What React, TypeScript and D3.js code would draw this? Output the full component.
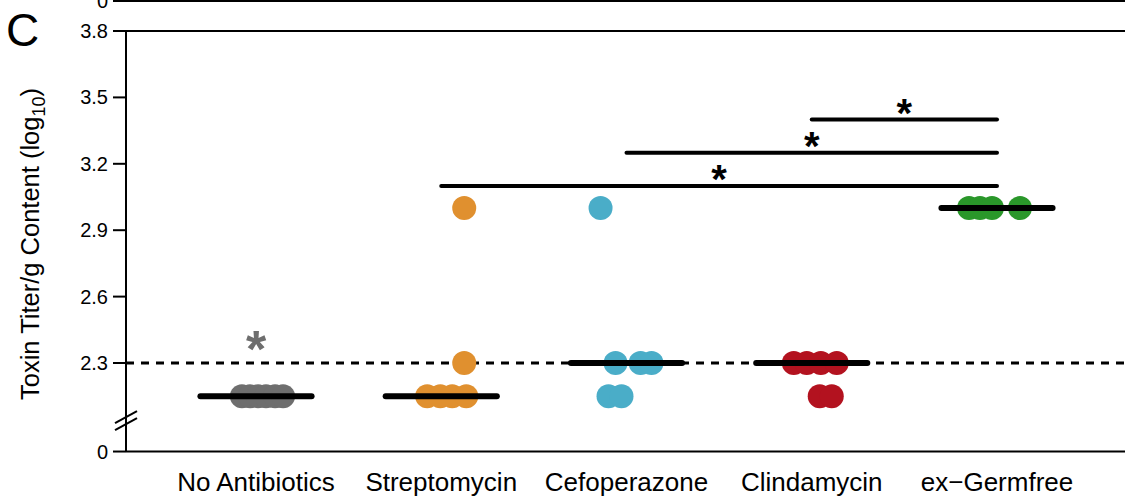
import React from 'react'
import { scaleLinear } from 'd3'

// groups along the x axis
const categories = ['No Antibiotics', 'Streptomycin', 'Cefoperazone', 'Clindamycin', 'ex\u2212Germfree']
const groupColors = ['#6e6e6e', '#e0902f', '#4aadc8', '#b3121f', '#2a972a']
const medians = [2.15, 2.15, 2.3, 2.3, 3.0]

// per-mouse toxin titers (log10); 2.15 = below detection, drawn under the dashed line
const noAbxValues = [2.15, 2.15, 2.15, 2.15, 2.15, 2.15]
const noAbxJitter = [-0.076, -0.032, 0.011, 0.054, 0.103, 0.146]
const strepValues = [3.0, 2.3, 2.15, 2.15, 2.15, 2.15]
const strepJitter = [0.124, 0.124, -0.076, -0.005, 0.059, 0.135]
const cefValues = [3.0, 2.3, 2.3, 2.3, 2.15, 2.15]
const cefJitter = [-0.14, -0.059, 0.076, 0.135, -0.097, -0.027]
const clindaValues = [2.3, 2.3, 2.3, 2.3, 2.15, 2.15]
const clindaJitter = [-0.097, -0.027, 0.049, 0.135, 0.043, 0.108]
const gfValues = [3.0, 3.0, 3.0, 3.0]
const gfJitter = [-0.151, -0.092, -0.027, 0.124]

// significance brackets: from group -> ex-Germfree
const sigFrom = [3, 2, 1]
const sigLevel = [3.4, 3.25, 3.1]
const sigTo = 4

const yTicks = [2.3, 2.6, 2.9, 3.2, 3.5, 3.8]
const detectionLimit = 2.3
const zeroAt = 1.9 // where the "0" tick sits below the axis break
const breakAt = 2.04

const W = 1125
const H = 498
const font = 'Liberation Sans, Arial, sans-serif'

const App = () => {
  const x = scaleLinear().domain([0, 4]).range([256, 997])
  const y = scaleLinear().domain([2.3, 3.8]).range([363, 31])
  const axisX = 126
  const tickLen = 13

  const groups = [
    { v: noAbxValues, j: noAbxJitter },
    { v: strepValues, j: strepJitter },
    { v: cefValues, j: cefJitter },
    { v: clindaValues, j: clindaJitter },
    { v: gfValues, j: gfJitter }
  ]

  const points = groups.flatMap((g, gi) =>
    g.v.map((val, k) => ({ gi, val, jit: g.j[k] }))
  )

  const zeroY = y(zeroAt)
  const brY = y(breakAt)

  return (
    <svg width={W} height={H} style={{ position: 'absolute', left: 0, top: 0, display: 'block', background: '#fff' }} fontFamily={font}>
      {/* remnant of the panel above */}
      <line x1={axisX - tickLen} x2={W} y1={1} y2={1} stroke="#000" strokeWidth={2} />
      <text x={108} y={8} fontSize={20} textAnchor="end">0</text>

      {/* panel letter */}
      <text x={6} y={46} fontSize={46}>C</text>

      {/* top frame line at 3.8 */}
      <line x1={axisX} x2={W} y1={y(3.8)} y2={y(3.8)} stroke="#000" strokeWidth={2} />
      {/* bottom line at 0 */}
      <line x1={axisX} x2={W} y1={zeroY} y2={zeroY} stroke="#000" strokeWidth={2} />

      {/* y axis */}
      <line x1={axisX} x2={axisX} y1={y(3.8)} y2={zeroY} stroke="#000" strokeWidth={2} />
      {yTicks.map(t => (
        <g key={t}>
          <line x1={axisX - tickLen} x2={axisX} y1={y(t)} y2={y(t)} stroke="#000" strokeWidth={2} />
          <text x={108} y={y(t) + 7} fontSize={20} textAnchor="end">{t.toFixed(1)}</text>
        </g>
      ))}
      <line x1={axisX - tickLen} x2={axisX} y1={zeroY} y2={zeroY} stroke="#000" strokeWidth={2} />
      <text x={108} y={zeroY + 7} fontSize={20} textAnchor="end">0</text>

      {/* axis break */}
      {[-3.5, 3.5].map(d => (
        <line key={d} x1={axisX - 11} x2={axisX + 11} y1={brY + d + 6} y2={brY + d - 6} stroke="#000" strokeWidth={2} />
      ))}

      {/* y label */}
      <text transform={`translate(39,244) rotate(-90)`} fontSize={25.5} textAnchor="middle">
        Toxin Titer/g Content (log
        <tspan fontSize={18} dy={6}>10</tspan>
        <tspan dy={-6}>)</tspan>
      </text>

      {/* detection limit */}
      <line x1={axisX} x2={W} y1={y(detectionLimit)} y2={y(detectionLimit)} stroke="#000" strokeWidth={3} strokeDasharray="8,7" />

      {/* points */}
      {points.map((p, i) => (
        <circle key={i} cx={x(p.gi + p.jit)} cy={y(p.val)} r={12} fill={groupColors[p.gi]} />
      ))}

      {/* medians */}
      {medians.map((m, i) => (
        <line key={i} x1={x(i - 0.3)} x2={x(i + 0.3)} y1={y(m)} y2={y(m)} stroke="#000" strokeWidth={6} strokeLinecap="round" />
      ))}

      {/* significance bars */}
      {sigFrom.map((f, i) => (
        <g key={f}>
          <line x1={x(f)} x2={x(sigTo)} y1={y(sigLevel[i])} y2={y(sigLevel[i])} stroke="#000" strokeWidth={4} strokeLinecap="round" />
          <text x={(x(f) + x(sigTo)) / 2} y={y(sigLevel[i]) + 7} fontSize={40} fontWeight="bold" textAnchor="middle">*</text>
        </g>
      ))}
      <text x={x(0)} y={367} fontSize={52} fontWeight="bold" textAnchor="middle" fill={groupColors[0]}>*</text>

      {/* category labels */}
      {categories.map((c, i) => (
        <text key={c} x={x(i)} y={491} fontSize={26} textAnchor="middle">{c}</text>
      ))}
    </svg>
  )
}

export default App
